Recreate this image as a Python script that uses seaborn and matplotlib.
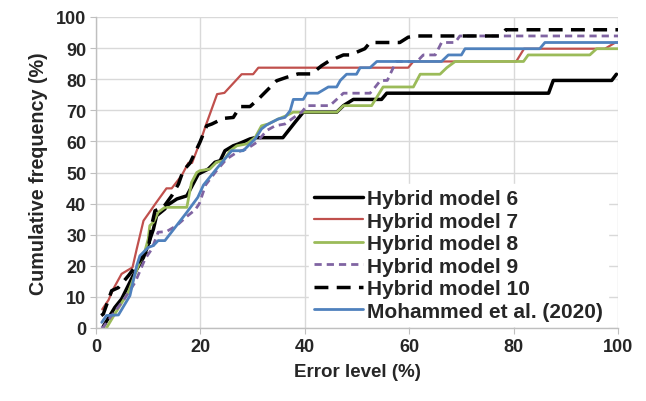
import matplotlib
matplotlib.use("Agg")
import matplotlib.pyplot as plt
import seaborn as sns
import pandas as pd

# ---- data ----
m6_x = [1.4, 3.6, 4.9, 7.1, 9.1, 9.7, 11.0, 11.6, 13.2, 13.5, 15.5, 17.4, 19.6, 21.5, 22.8, 23.8, 24.7, 26.3, 27.3, 29.5, 30.5, 35.8, 38.1, 39.7, 46.1, 47.4, 49.3, 54.7, 55.7, 86.7, 87.6, 98.8, 99.7]
m6_y = [0.5, 6.6, 9.3, 16.8, 22.7, 25.4, 31.8, 36.1, 38.3, 39.3, 41.5, 42.5, 49.5, 51.1, 53.3, 53.8, 57.0, 58.6, 59.2, 60.8, 61.2, 61.2, 66.1, 69.4, 69.4, 71.5, 73.5, 73.5, 75.5, 75.5, 79.6, 79.6, 81.6]

m7_x = [1.2, 2.4, 3.3, 4.9, 5.9, 7.0, 7.8, 9.1, 10.7, 11.4, 13.5, 14.5, 16.4, 17.7, 18.4, 20.2, 21.0, 23.2, 24.6, 27.9, 30.1, 31.1, 59.8, 60.8, 80.5, 82.0, 97.5, 99.5, 100.0]
m7_y = [6.0, 9.0, 12.5, 17.4, 18.4, 19.5, 25.4, 34.5, 38.3, 40.0, 44.9, 44.9, 49.0, 53.1, 53.1, 61.0, 65.0, 75.2, 75.6, 81.6, 81.6, 83.7, 83.7, 85.7, 85.7, 89.8, 89.8, 91.8, 91.8]

m8_x = [2.0, 3.6, 6.2, 8.1, 9.4, 10.0, 10.3, 11.0, 11.9, 13.2, 17.4, 18.3, 19.3, 19.9, 21.8, 23.1, 24.4, 25.7, 27.0, 28.9, 30.5, 31.7, 33.0, 34.9, 36.5, 37.8, 46.1, 47.4, 52.8, 55.0, 60.8, 62.1, 65.9, 67.2, 68.8, 81.9, 82.8, 94.6, 95.9, 100.0]
m8_y = [0.0, 4.5, 11.5, 20.0, 24.9, 28.6, 32.9, 34.0, 37.2, 38.8, 38.8, 46.8, 50.0, 50.6, 51.1, 53.3, 53.8, 57.0, 58.6, 59.2, 61.3, 65.0, 65.6, 67.2, 68.3, 69.4, 69.4, 71.5, 71.5, 77.5, 77.5, 81.6, 81.6, 83.7, 85.7, 85.7, 87.8, 87.8, 89.8, 89.8]

m9_x = [1.0, 1.4, 3.0, 5.2, 7.5, 9.4, 10.7, 11.9, 13.5, 15.5, 17.5, 19.0, 19.8, 21.0, 23.1, 25.0, 27.0, 28.9, 30.8, 32.7, 34.3, 36.2, 38.4, 39.4, 40.4, 44.8, 47.4, 52.5, 53.5, 54.5, 55.8, 57.5, 61.5, 62.7, 65.0, 66.2, 68.8, 69.7, 100.0]
m9_y = [0.0, 0.3, 4.0, 8.8, 14.7, 22.2, 25.4, 30.8, 31.0, 33.0, 36.0, 38.0, 40.0, 46.0, 50.6, 54.3, 56.5, 57.6, 59.7, 63.5, 65.0, 65.6, 68.3, 69.4, 71.5, 71.5, 75.5, 75.5, 77.5, 79.6, 79.6, 85.7, 85.7, 87.8, 87.8, 91.8, 91.8, 93.9, 93.9]

m10_x = [1.0, 1.4, 3.0, 4.3, 6.2, 8.1, 10.0, 10.8, 11.3, 12.9, 14.5, 15.8, 16.7, 18.0, 19.9, 21.2, 22.2, 24.4, 26.3, 27.6, 29.5, 31.1, 34.6, 36.5, 38.7, 41.3, 43.2, 44.5, 47.4, 48.7, 51.5, 52.5, 58.2, 59.8, 61.4, 77.5, 78.5, 100.0]
m10_y = [4.0, 4.5, 12.0, 13.0, 16.8, 21.0, 25.4, 34.0, 37.7, 38.8, 42.5, 46.3, 50.6, 53.0, 59.7, 65.0, 65.6, 67.4, 67.7, 71.2, 71.2, 73.6, 79.5, 80.6, 81.7, 81.7, 84.3, 85.7, 87.8, 87.8, 89.8, 91.8, 91.8, 93.5, 93.9, 93.9, 95.9, 95.9]

moh_x = [1.1, 2.0, 4.3, 6.5, 7.8, 8.4, 10.0, 11.0, 11.9, 13.2, 17.4, 19.5, 20.6, 21.8, 23.0, 24.4, 26.0, 28.2, 30.5, 31.7, 32.7, 34.9, 36.2, 37.2, 37.8, 39.7, 40.4, 42.5, 44.5, 46.1, 46.8, 48.0, 49.9, 50.6, 52.5, 53.8, 66.2, 67.5, 70.0, 70.7, 85.0, 86.0, 100.0]
moh_y = [1.8, 4.0, 4.2, 10.4, 20.0, 23.2, 25.9, 26.5, 28.1, 28.1, 37.2, 42.0, 46.0, 48.5, 51.0, 53.8, 57.0, 57.0, 60.8, 64.0, 65.3, 67.2, 67.7, 69.9, 73.5, 73.5, 75.5, 75.5, 77.5, 77.5, 79.6, 81.6, 81.6, 83.7, 83.7, 85.7, 85.7, 87.8, 87.8, 89.8, 89.8, 91.8, 91.8]

labels = ["Hybrid model 6", "Hybrid model 7", "Hybrid model 8",
          "Hybrid model 9", "Hybrid model 10", "Mohammed et al. (2020)"]
xs = [m6_x, m7_x, m8_x, m9_x, m10_x, moh_x]
ys = [m6_y, m7_y, m8_y, m9_y, m10_y, moh_y]

x_ticks = [0, 20, 40, 60, 80, 100]
y_ticks = [0, 10, 20, 30, 40, 50, 60, 70, 80, 90, 100]

# ---- style ----
sns.set_style("white")
plt.rcParams['font.family'] = ['Liberation Sans', 'DejaVu Sans']
plt.rcParams['font.weight'] = 'bold'

colors = ["#000000", "#c0504d", "#9bbb59", "#8064a2", "#000000", "#4f81bd"]
widths = [2.5, 1.6, 2.0, 2.0, 2.5, 2.0]
dashes = [None, None, None, (2.6, 1.8), (4.0, 2.4), None]

fig = plt.figure(figsize=(6.46, 4.02), dpi=100)
ax = fig.add_axes([96/646, 1-329/402, 522/646, 311/402])

for lab, x, y, c, w, d in zip(labels, xs, ys, colors, widths, dashes):
    df = pd.DataFrame({"x": x, "y": y})
    sns.lineplot(data=df, x="x", y="y", ax=ax, sort=False, estimator=None,
                 color=c, linewidth=w, label=lab)
    if d is not None:
        ax.lines[-1].set_dashes(d)

ax.set_xlim(0, 100)
ax.set_ylim(0, 100)
ax.set_xticks(x_ticks)
ax.set_yticks(y_ticks)
ax.grid(True, color="#d9d9d9", linewidth=1.0)
ax.set_axisbelow(True)
for s in ["top", "right"]:
    ax.spines[s].set_visible(False)
for s in ["left", "bottom"]:
    ax.spines[s].set_color("#bfbfbf")
    ax.spines[s].set_linewidth(1.0)
ax.tick_params(axis="both", which="major", length=4, color="#bfbfbf",
               labelsize=13, pad=3, direction="out", bottom=True, left=True)
for t in ax.get_xticklabels() + ax.get_yticklabels():
    t.set_fontweight("bold")
ax.set_xlabel("Error level (%)", fontsize=13.5, fontweight="bold", labelpad=6)
ax.set_ylabel("Cumulative frequency (%)", fontsize=14.2, fontweight="bold", labelpad=6)

leg = ax.legend(loc="lower right", bbox_to_anchor=(0.985, 0.0), fontsize=15,
                frameon=True, framealpha=1.0, edgecolor="white", facecolor="white",
                handlelength=2.35, handletextpad=0.2, labelspacing=0.17,
                borderpad=0.25, borderaxespad=0.1, fancybox=False)
for t in leg.get_texts():
    t.set_fontweight("bold")

fig.savefig("out.png", dpi=100)
